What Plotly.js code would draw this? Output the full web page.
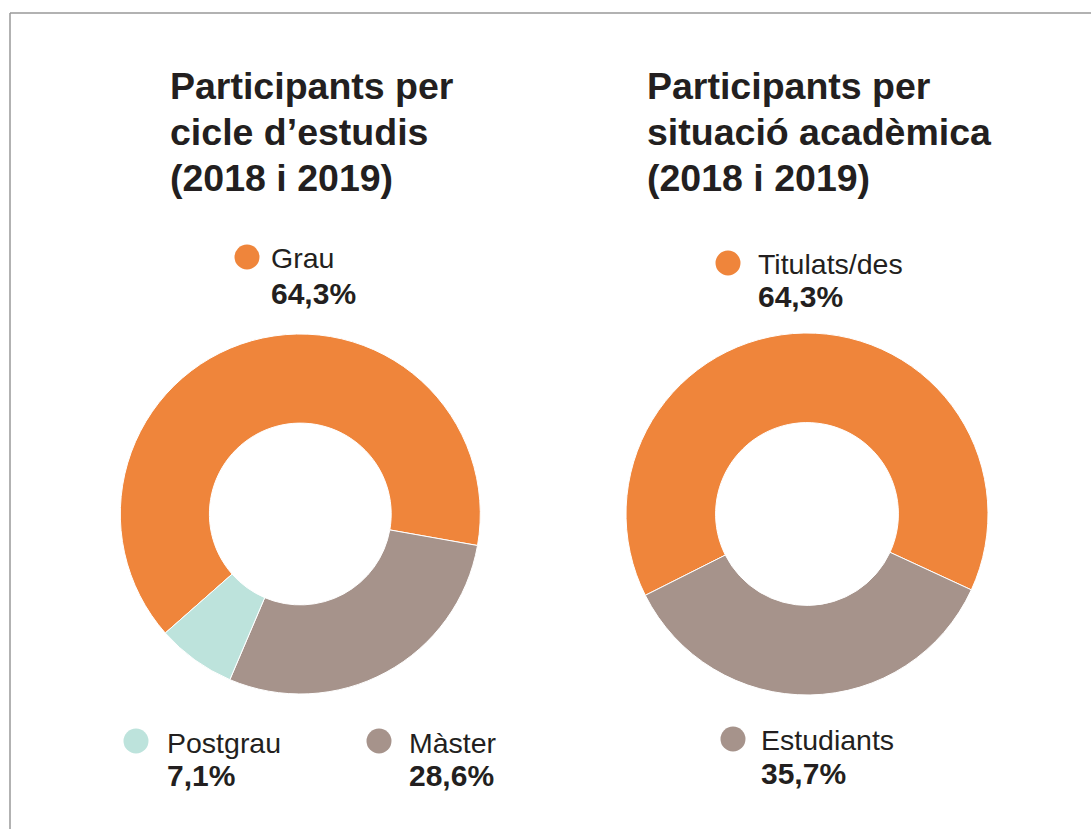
<!DOCTYPE html>
<html>
<head>
<meta charset="utf-8">
<script src="https://cdn.plot.ly/plotly-3.0.1.min.js"></script>
<style>
  html, body { margin: 0; padding: 0; background: #ffffff; }
  #chart { width: 1091px; height: 829px; }
</style>
</head>
<body>
<div id="chart"></div>
<script>
// ---- Data ----
const cycleTitle = ['Participants per', 'cicle d\u2019estudis', '(2018 i 2019)'];
const cycleLabels = ['Grau', 'M\u00e0ster', 'Postgrau'];
const cycleValues = [64.3, 28.6, 7.1];
const cycleColors = ['#EF853B', '#A6938B', '#BDE3DC'];

const statusTitle = ['Participants per', 'situaci\u00f3 acad\u00e8mica', '(2018 i 2019)'];
const statusLabels = ['Titulats/des', 'Estudiants'];
const statusValues = [64.3, 35.7];
const statusColors = ['#EF853B', '#A6938B'];

// ---- Layout helpers (pixel -> paper) ----
const W = 1091, H = 829;
const px = x => x / W;
const py = y => 1 - y / H;
const TEXT = '#231F20';
const FONT = 'Liberation Sans, Arial, Helvetica, sans-serif';

const fmt = v => v.toFixed(1).replace('.', ',') + '%';

const titleSize = 37.5, nameSize = 28.5, pctSize = 30;

const annotations = [];
const shapes = [];

function addTitle(lines, x, baselines) {
  lines.forEach((t, i) => {
    annotations.push({
      xref: 'paper', yref: 'paper', x: px(x), y: py(baselines[i] - 0.35 * titleSize),
      xanchor: 'left', yanchor: 'middle', showarrow: false,
      text: '<b>' + t + '</b>',
      font: { family: FONT, size: titleSize, color: TEXT }
    });
  });
}

function addLabel(name, value, color, dotX, dotY, textX, nameBase, pctBase) {
  shapes.push({
    type: 'circle', xref: 'paper', yref: 'paper',
    xsizemode: 'pixel', ysizemode: 'pixel',
    xanchor: px(dotX), yanchor: py(dotY),
    x0: -12.5, x1: 12.5, y0: -12.5, y1: 12.5,
    fillcolor: color, line: { width: 0 }
  });
  annotations.push({
    xref: 'paper', yref: 'paper', x: px(textX), y: py(nameBase - 0.35 * nameSize),
    xanchor: 'left', yanchor: 'middle', showarrow: false,
    text: name, font: { family: FONT, size: nameSize, color: TEXT }
  });
  annotations.push({
    xref: 'paper', yref: 'paper', x: px(textX), y: py(pctBase - 0.35 * pctSize),
    xanchor: 'left', yanchor: 'middle', showarrow: false,
    text: '<b>' + fmt(value) + '</b>', font: { family: FONT, size: pctSize, color: TEXT }
  });
}

addTitle(cycleTitle, 168, [99, 145, 191]);
addTitle(statusTitle, 645, [99, 145, 191]);

// label placements (pixel positions)
const cyclePos = [
  { dot: [247, 257], tx: 269, nb: 268, pb: 304 },
  { dot: [379, 741], tx: 407, nb: 753, pb: 786 },
  { dot: [136, 741], tx: 165, nb: 753, pb: 786 }
];
const statusPos = [
  { dot: [728, 263], tx: 756, nb: 274, pb: 307 },
  { dot: [733, 739], tx: 759, nb: 750, pb: 784 }
];
cycleLabels.forEach((l, i) => {
  const p = cyclePos[i];
  addLabel(l, cycleValues[i], cycleColors[i], p.dot[0], p.dot[1], p.tx, p.nb, p.pb);
});
statusLabels.forEach((l, i) => {
  const p = statusPos[i];
  addLabel(l, statusValues[i], statusColors[i], p.dot[0], p.dot[1], p.tx, p.nb, p.pb);
});

// frame lines (left and top)
shapes.push({ type: 'line', xref: 'paper', yref: 'paper', x0: px(10), x1: px(10), y0: py(13), y1: 0,
  line: { color: '#999999', width: 1.5 } });
shapes.push({ type: 'line', xref: 'paper', yref: 'paper', x0: px(10), x1: 1, y0: py(13), y1: py(13),
  line: { color: '#999999', width: 1.5 } });

const traces = [
  {
    type: 'pie', labels: cycleLabels, values: cycleValues, sort: false,
    direction: 'clockwise', rotation: 228.6, hole: 0.505,
    marker: { colors: cycleColors, line: { color: '#ffffff', width: 1 } },
    textinfo: 'none', hoverinfo: 'label+percent', showlegend: false,
    domain: { x: [px(120.3), px(480.3)], y: [py(694), py(334)] }
  },
  {
    type: 'pie', labels: statusLabels, values: statusValues, sort: false,
    direction: 'clockwise', rotation: 243.3, hole: 0.505,
    marker: { colors: statusColors, line: { color: '#ffffff', width: 1 } },
    textinfo: 'none', hoverinfo: 'label+percent', showlegend: false,
    domain: { x: [px(626), px(988)], y: [py(695), py(333)] }
  }
];

const layout = {
  width: W, height: H,
  margin: { l: 0, r: 0, t: 0, b: 0 },
  paper_bgcolor: '#ffffff', plot_bgcolor: '#ffffff',
  showlegend: false,
  annotations: annotations,
  shapes: shapes
};

Plotly.newPlot('chart', traces, layout, { displayModeBar: false, staticPlot: true });
</script>
</body>
</html>
